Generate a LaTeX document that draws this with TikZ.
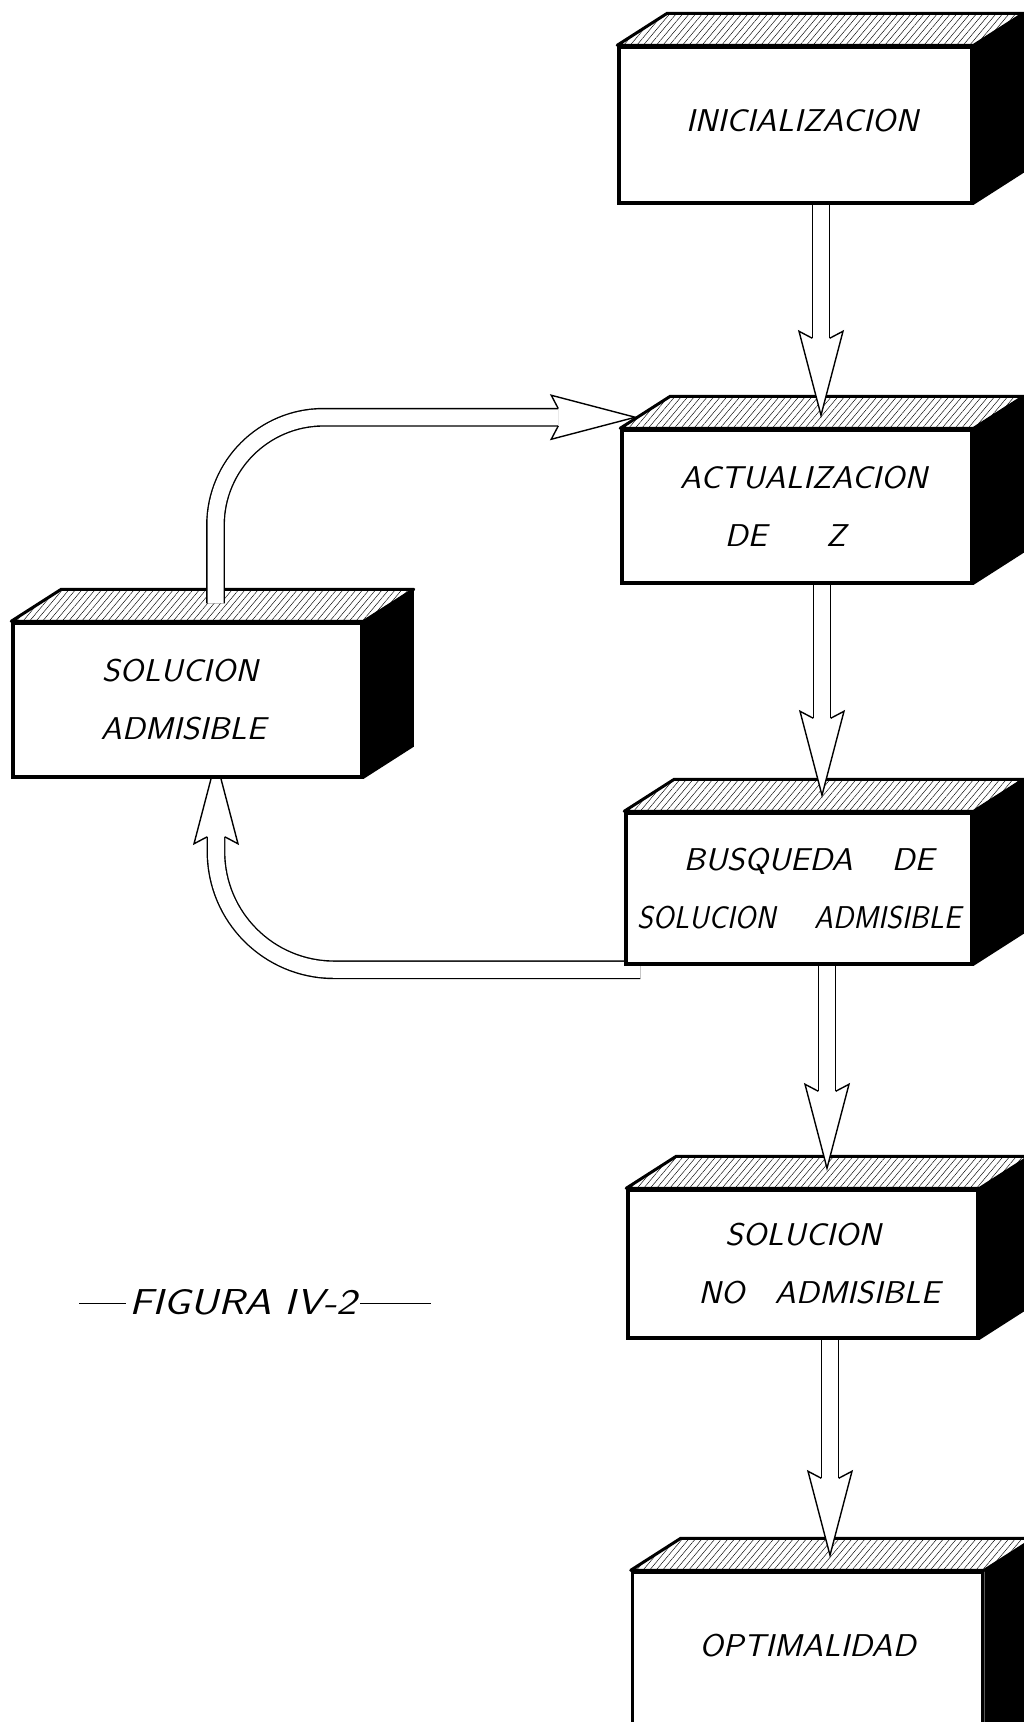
\documentclass[tikz,border=0pt]{standalone}
\usepackage{fontspec}
\usepackage{graphicx}
\usepackage{tikz}
\usetikzlibrary{patterns, patterns.meta, calc}
\pgfdeclarelayer{bg}
\pgfsetlayers{bg,main}
\newcommand{\ancho}[1]{\scalebox{1.08}[1]{#1}}

\begin{document}
\begin{tikzpicture}[x=1pt, y=-1pt,
    caja/.style={draw, line width=3.5pt, fill=white, minimum width=350pt, minimum height=153pt,
        align=center, inner sep=0pt, font=\sffamily\itshape\fontsize{31.5}{58}\selectfont},
    tapa/.style={line width=3pt, line join=round, pattern={Lines[angle=50, distance=5pt, line width=0.45pt]}},
    tubo/.style={line width=1.4pt, double=white, double distance=16pt},
    punta/.pic={
        \fill[white] (0,0) -- (-84,22) -- (-77,8.7) -- (-77,-8.7) -- (-84,-22) -- cycle;
        \draw[line width=1.4pt] (-77,8.7) -- (-84,22) -- (0,0) -- (-84,-22) -- (-77,-8.7);
    }]
    \useasboundingbox (0,0) rectangle (1024,1722);
    \clip (0,0) rectangle (1024,1722);

    % Cajas
    \node[caja, minimum width=353pt, minimum height=156pt, text depth=10pt] (ini) at (795.5,125)
        {\ancho{\hspace{12pt}INICIALIZACION}};
    \node[caja] (act) at (797,506.5)
        {\ancho{\hspace{12pt}ACTUALIZACION}\\\ancho{DE\hspace{55pt}Z\hspace{22pt}}};
    \node[caja, minimum width=346pt, minimum height=151pt] (bus) at (799,888.5)
        {\ancho{\hspace{18pt}BUSQUEDA\hspace{36pt}DE}\\\scalebox{0.96}[1]{SOLUCION\hspace{40pt}ADMISIBLE}};
    \node[caja, minimum height=148pt] (sna) at (803,1264)
        {\ancho{SOLUCION}\\\ancho{\hspace{30pt}NO\hspace{28pt}ADMISIBLE}};
    \node[caja, minimum height=180pt, text depth=34pt] (opt) at (807.5,1662) {\ancho{OPTIMALIDAD}};
    \node[caja, minimum width=349pt, minimum height=154pt] (sad) at (187.5,700)
        {\ancho{SOLUCION\hspace{14pt}}\\\ancho{ADMISIBLE\hspace{8pt}}};

    % Tapas y costados
    \foreach \n in {ini,act,bus,sna,opt,sad} {
        \draw[tapa] (\n.north west) -- ++(50,-32) -- ($(\n.north east)+(50,-32)$) -- (\n.north east) -- cycle;
        \fill (\n.north east) -- ++(50,-32) -- ($(\n.south east)+(50,-32)$) -- (\n.south east) -- cycle;
    }

    % Flechas verticales
    \coordinate (p1) at ($(act.north)+(24,-13)$);
    \coordinate (p2) at ($(bus.north)+(23,-16)$);
    \coordinate (p3) at ($(sna.north)+(24,-20)$);
    \coordinate (p4) at ($(opt.north)+(22.5,-15)$);
    \begin{pgfonlayer}{bg}
        \draw[tubo] (ini.center -| p1) -- ($(p1)+(0,-77)$);
        \draw[tubo] (act.center -| p2) -- ($(p2)+(0,-77)$);
        \draw[tubo] (bus.center -| p3) -- ($(p3)+(0,-77)$);
        \draw[tubo] (sna.center -| p4) -- ($(p4)+(0,-77)$);
    \end{pgfonlayer}
    \foreach \p in {p1,p2,p3,p4}
        \pic[rotate=-90] at (\p) {punta};

    % Vuelta a la actualizacion
    \coordinate (s5) at ($(sad.north)+(28,-18)$);
    \coordinate (p5) at ($(act.north west)+(15,-11)$);
    \draw[tubo, rounded corners=108pt] (s5) |- ($(p5)+(-77,0)$);
    \pic at (p5) {punta};

    % Salida de la busqueda
    \coordinate (s6) at ($(bus.south west)+(16,4)$);
    \coordinate (p6) at ($(sad.south)+(28.5,-19)$);
    \begin{pgfonlayer}{bg}
        \draw[tubo, rounded corners=118pt] (s6) -| ($(p6)+(0,77)$);
        \pic[rotate=90] at (p6) {punta};
    \end{pgfonlayer}

    % Titulo
    \node[font=\sffamily\itshape\fontsize{36}{40}\selectfont, inner sep=3pt] (fig) at (243,1302)
        {\scalebox{1.2}[1]{FIGURA IV-2}};
    \draw[line width=1pt] ($(fig.west)+(0,1)$) -- ++(-47,0);
    \draw[line width=1pt] ($(fig.east)+(0,1)$) -- ++(71,0);
\end{tikzpicture}
\end{document}
